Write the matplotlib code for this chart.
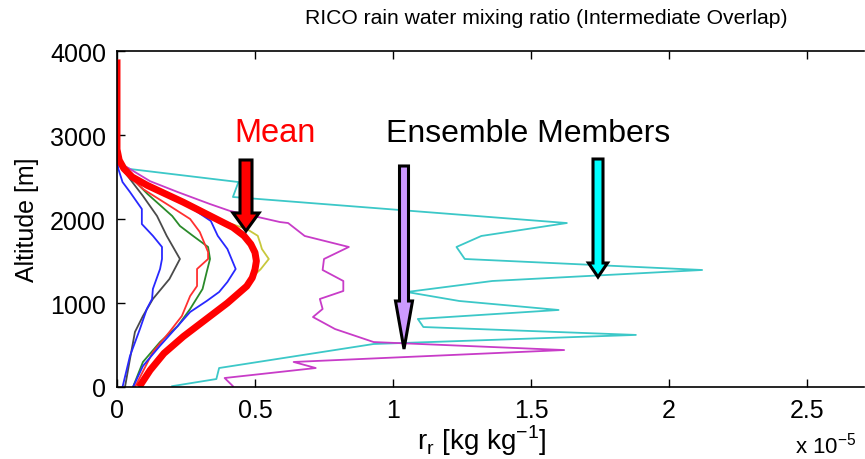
import matplotlib
matplotlib.use("Agg")
import matplotlib.pyplot as plt
from matplotlib.patches import Polygon

plt.rcParams["font.family"] = ["Liberation Sans", "DejaVu Sans"]
plt.rcParams["mathtext.fontset"] = "custom"
plt.rcParams["mathtext.rm"] = "Liberation Sans"

# Rain water mixing ratio profiles (units of 1e-5 kg/kg) vs altitude [m]
mean_alt = [0, 100, 200, 300, 400, 500, 600, 700, 800, 900, 1000, 1100, 1200, 1300, 1400,
            1500, 1600, 1700, 1800, 1900, 2000, 2100, 2200, 2300, 2400, 2500, 2600, 2700,
            2830, 3000, 3400, 3900]
mean_rr = [0.08, 0.10, 0.12, 0.145, 0.17, 0.205, 0.24, 0.28, 0.32, 0.36, 0.40, 0.435, 0.47,
           0.49, 0.50, 0.505, 0.50, 0.485, 0.46, 0.42, 0.36, 0.30, 0.24, 0.175, 0.11, 0.055,
           0.025, 0.008, 0.0, 0.0, 0.0, 0.0]

yellow_alt = [0, 200, 400, 600, 800, 929, 1000, 1100, 1200, 1310, 1400, 1524, 1643, 1700,
              1800, 1881, 2000, 2200, 2400, 2600, 2750]
yellow_rr = [0.08, 0.12, 0.17, 0.24, 0.32, 0.38, 0.40, 0.43, 0.46, 0.49, 0.52, 0.55, 0.525,
             0.52, 0.51, 0.47, 0.36, 0.24, 0.11, 0.025, 0.0]

blue_a_alt = [0, 250, 488, 726, 893, 1024, 1131, 1250, 1405, 1643, 1800, 1976, 2119, 2214,
              2321, 2440, 2595, 2700]
blue_a_rr = [0.058, 0.094, 0.155, 0.22, 0.265, 0.325, 0.37, 0.40, 0.43, 0.40, 0.365, 0.34,
             0.275, 0.22, 0.167, 0.094, 0.02, 0.0]

blue_b_alt = [0, 369, 690, 929, 1048, 1167, 1405, 1524, 1667, 1800, 1940, 2119, 2321, 2440,
              2595, 2700]
blue_b_rr = [0.02, 0.047, 0.083, 0.108, 0.127, 0.13, 0.156, 0.163, 0.163, 0.13, 0.09, 0.09,
             0.047, 0.02, 0.005, 0.0]

gray_alt = [0, 333, 655, 845, 1048, 1286, 1524, 1800, 2036, 2274, 2476, 2680]
gray_rr = [0.029, 0.047, 0.065, 0.094, 0.13, 0.19, 0.228, 0.18, 0.145, 0.094, 0.047, 0.0]

red_alt = [0, 417, 655, 845, 1083, 1202, 1405, 1524, 1607, 1845, 2000, 2179, 2357, 2550, 2700]
red_rr = [0.065, 0.13, 0.19, 0.235, 0.265, 0.29, 0.29, 0.33, 0.33, 0.30, 0.265, 0.18, 0.094,
          0.03, 0.0]

green_alt = [0, 298, 536, 726, 929, 1167, 1369, 1524, 1667, 1800, 1917, 2036, 2300, 2500, 2680]
green_rr = [0.058, 0.094, 0.156, 0.22, 0.265, 0.31, 0.325, 0.337, 0.33, 0.275, 0.228, 0.20,
            0.11, 0.05, 0.0]

magenta_alt = [10, 107, 226, 298, 440, 535, 690, 833, 929, 1048, 1143, 1262, 1393, 1524, 1667,
               1798, 1952, 1964, 2024, 2095, 2178, 2321, 2450, 2595, 2680]
magenta_rr = [0.42, 0.39, 0.72, 0.64, 1.62, 0.93, 0.79, 0.71, 0.745, 0.735, 0.82, 0.82, 0.745,
              0.75, 0.84, 0.68, 0.62, 0.59, 0.51, 0.41, 0.337, 0.22, 0.12, 0.047, 0.0]

cyan_alt = [10, 95, 226, 512, 620, 714, 810, 917, 1024, 1131, 1262, 1393, 1524, 1667, 1798,
            1952, 2262, 2440, 2595, 2680]
cyan_rr = [0.20, 0.36, 0.37, 0.93, 1.88, 1.11, 1.09, 1.60, 1.24, 1.05, 1.36, 2.12, 1.26, 1.23,
           1.32, 1.63, 0.42, 0.44, 0.047, 0.0]

x_ticks = [0, 0.5, 1, 1.5, 2, 2.5]
x_ticklabels = ["0", "0.5", "1", "1.5", "2", "2.5"]
y_ticks = [0, 1000, 2000, 3000, 4000]

W, H = 865, 460
fig = plt.figure(figsize=(W / 100, H / 100), dpi=100)
ax = fig.add_axes([117 / W, 1 - 388 / H, (864 - 117) / W, (388 - 52) / H])

members = [
    (cyan_rr, cyan_alt, "#3cc8c8"),
    (magenta_rr, magenta_alt, "#c83cc8"),
    (yellow_rr, yellow_alt, "#c8c83c"),
    (gray_rr, gray_alt, "#4a4a4a"),
    (blue_b_rr, blue_b_alt, "#2828ff"),
    (green_rr, green_alt, "#2a8a2a"),
    (red_rr, red_alt, "#ff3030"),
    (blue_a_rr, blue_a_alt, "#2828ff"),
]
for xs, ys, col in members:
    ax.plot(xs, ys, color=col, lw=1.3)
ax.plot(mean_rr, mean_alt, color="#ff0000", lw=5, solid_capstyle="butt")

ax.set_xlim(0, (864 - 117) / 276)
ax.set_ylim(0, 4000)
ax.set_xticks(x_ticks)
ax.set_xticklabels(x_ticklabels)
ax.set_yticks(y_ticks)
ax.tick_params(direction="in", length=6, width=1, labelsize=18, top=True, pad=8)
ax.spines["right"].set_visible(False)
for s in ax.spines.values():
    s.set_linewidth(1.2)

fig.text(546 / W, 1 - 19 / H, "RICO rain water mixing ratio (Intermediate Overlap)",
         fontsize=15.2, ha="center", va="center")
ax.set_ylabel("Altitude [m]", fontsize=18, labelpad=8)
ax.set_xlabel(r"r$_\mathregular{r}$ [kg kg$^\mathregular{-1}$]", fontsize=20)
ax.xaxis.set_label_coords((482 - 117) / (864 - 117), -(441 - 388) / (388 - 52),
                          transform=ax.transAxes)
ax.xaxis.label.set_va("center")
fig.text(795 / W, 1 - 459 / H, r"x 10$^\mathregular{-5}$", fontsize=16, ha="left", va="bottom")

# Annotation arrows (figure pixel geometry)
def arrow(cx, top, head_top, tip, shaft_w, head_w, color):
    pts = [(cx - shaft_w / 2, top), (cx + shaft_w / 2, top), (cx + shaft_w / 2, head_top),
           (cx + head_w / 2, head_top), (cx, tip), (cx - head_w / 2, head_top),
           (cx - shaft_w / 2, head_top)]
    pts = [(x / W, 1 - y / H) for x, y in pts]
    fig.patches.append(Polygon(pts, closed=True, transform=fig.transFigure,
                               facecolor=color, edgecolor="black", lw=2.2, zorder=10))

arrow(246, 161, 214, 232, 12, 26, "#ff0000")
arrow(404, 167, 302, 350, 9, 17, "#cc99ff")
arrow(598, 160, 264, 278, 10, 19, "#00ffff")

fig.text(275 / W, 1 - 134 / H, "Mean", color="#ff0000", fontsize=23.5, ha="center", va="center")
fig.text(528 / W, 1 - 134 / H, "Ensemble Members", color="black", fontsize=23,
         ha="center", va="center")

fig.savefig("out.png", dpi=100)
